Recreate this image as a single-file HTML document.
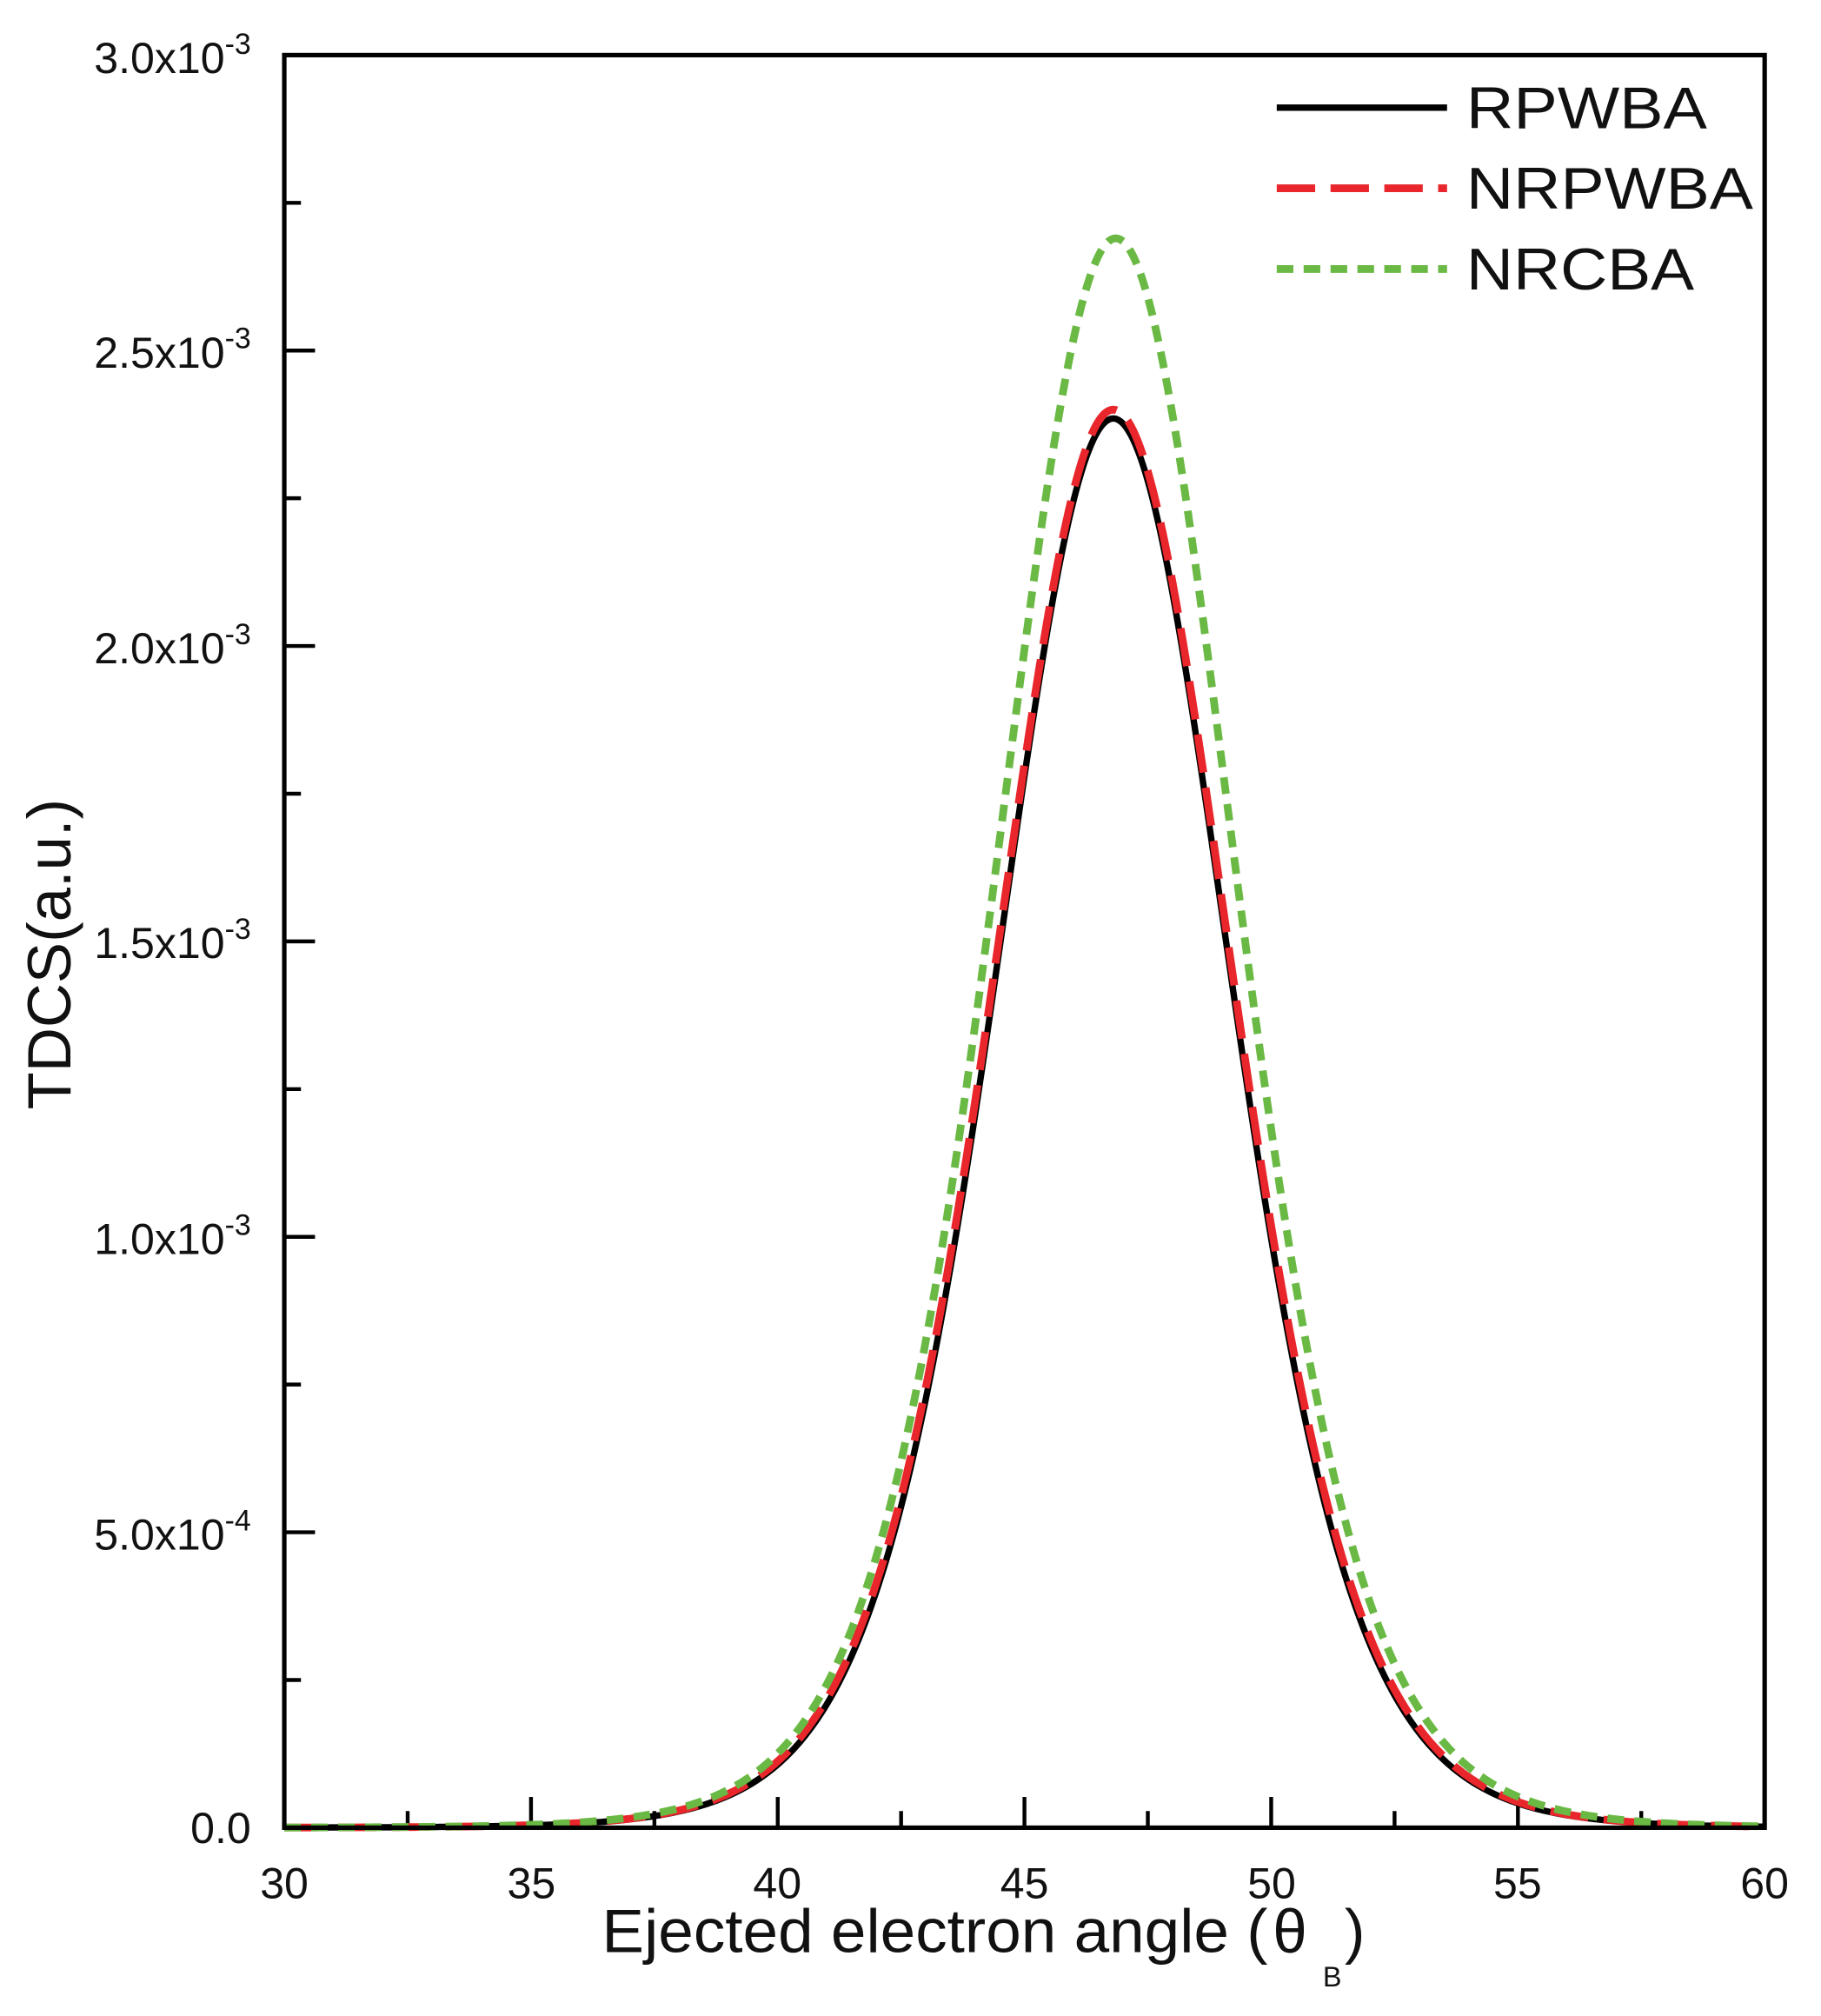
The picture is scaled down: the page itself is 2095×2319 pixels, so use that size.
<!DOCTYPE html>
<html><head><meta charset="utf-8"><style>
html,body{margin:0;padding:0;background:#fff}
svg{display:block}
text{font-family:"Liberation Sans",sans-serif;fill:#111}
</style></head><body>
<svg id="s" width="2095" height="2319" viewBox="0 0 1422 1574" xmlns="http://www.w3.org/2000/svg">
<rect x="0" y="0" width="1422" height="1574" fill="#fff"/>
<g id="ticks" stroke="#000" stroke-width="3"></g>
<g id="curves" fill="none"></g>
<rect x="222" y="43" width="1156" height="1384" fill="none" stroke="#000" stroke-width="3.5"/>
<g font-size="34" text-anchor="end">
<text x="196" y="1439">0.0</text>
<text x="196" y="1210">5.0x10<tspan font-size="23" dy="-15">-4</tspan></text>
<text x="196" y="979">1.0x10<tspan font-size="23" dy="-15">-3</tspan></text>
<text x="196" y="748">1.5x10<tspan font-size="23" dy="-15">-3</tspan></text>
<text x="196" y="518">2.0x10<tspan font-size="23" dy="-15">-3</tspan></text>
<text x="196" y="287">2.5x10<tspan font-size="23" dy="-15">-3</tspan></text>
<text x="196" y="57">3.0x10<tspan font-size="23" dy="-15">-3</tspan></text>
</g>
<g font-size="34" text-anchor="middle">
<text x="222" y="1482">30</text><text x="415" y="1482">35</text><text x="607" y="1482">40</text>
<text x="800" y="1482">45</text><text x="993" y="1482">50</text><text x="1185" y="1482">55</text>
<text x="1378" y="1482">60</text>
</g>
<text x="470" y="1524" font-size="48" textLength="520" lengthAdjust="spacingAndGlyphs">Ejected electron angle (</text>
<text x="994" y="1524" font-size="48">θ</text>
<text x="1033" y="1551" font-size="22" font-family="Liberation Serif">B</text>
<text x="1050" y="1524" font-size="48">)</text>
<text transform="translate(55,745) rotate(-90)" font-size="48" text-anchor="middle">TDCS(a.u.)</text>
<g stroke-width="6" fill="none">
<line x1="997" y1="84" x2="1130" y2="84" stroke="#000" stroke-width="5"/>
<line x1="997" y1="147" x2="1130" y2="147" stroke="#e8262b" stroke-dasharray="30,12"/>
<line x1="997" y1="210" x2="1130" y2="210" stroke="#6ab944" stroke-dasharray="13,8"/>
</g>
<g font-size="46">
<text x="1145" y="100" textLength="188" lengthAdjust="spacingAndGlyphs">RPWBA</text>
<text x="1145" y="163" textLength="224" lengthAdjust="spacingAndGlyphs">NRPWBA</text>
<text x="1145" y="226" textLength="178" lengthAdjust="spacingAndGlyphs">NRCBA</text>
</g>
</svg>
<script>
(function(){
function X(a){return 222+(a-30)*38.533;}
function Y(v){return 1427-v*461.33;}
var t=document.getElementById("ticks"),h="";
for(var a=30;a<=60.01;a+=2.5){var maj=(Math.round(a*2)%10==0);h+='<line x1="'+X(a)+'" y1="1427" x2="'+X(a)+'" y2="'+(1427-(maj?24:13))+'"/>';}
for(var v=0;v<=3.001;v+=0.25){var maj=(Math.round(v*4)%2==0);h+='<line x1="222" y1="'+Y(v)+'" x2="'+(222+(maj?24:13))+'" y2="'+Y(v)+'"/>';}
t.innerHTML=h;
function path(A,c,g,n){var d="";for(var a=30;a<=60.001;a+=0.05){var x=a-c;var f=A/Math.pow(1+x*x/(g*g),n);d+=(d?"L":"M")+X(a).toFixed(2)+","+Y(f).toFixed(2);}return d;}
var c=document.getElementById("curves");
c.innerHTML='<path d="'+path(2.385,46.8,7.33,5)+'" stroke="#000" stroke-width="5"/>'+
'<path d="'+path(2.40,46.8,7.4,5)+'" stroke="#e8262b" stroke-width="6" stroke-dasharray="30,12"/>'+
'<path d="'+path(2.69,46.85,7.45,5)+'" stroke="#6ab944" stroke-width="6" stroke-dasharray="13,8"/>';
})();
</script>
</body></html>
